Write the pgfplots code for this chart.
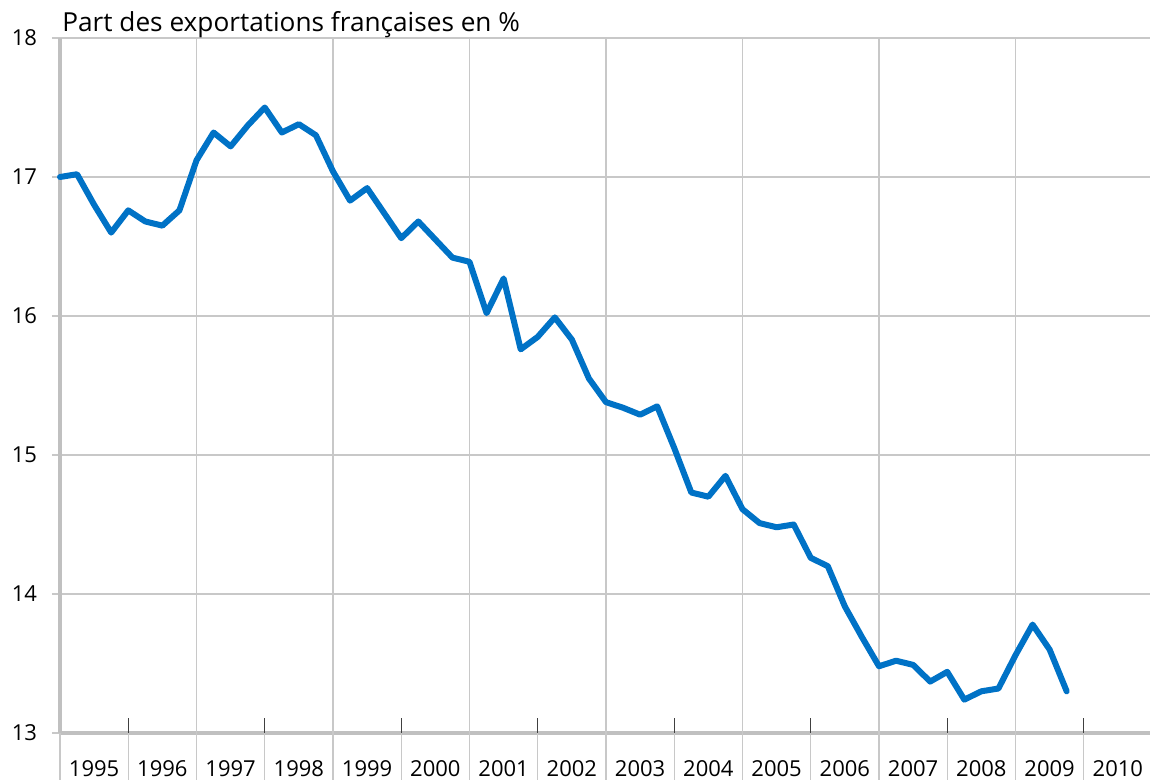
\documentclass[border=0pt]{standalone}
\usepackage{fontspec}
\setmainfont{Open Sans}
\usepackage{pgfplots}
\pgfplotsset{compat=1.18}
\definecolor{lineblue}{RGB}{0,114,198}
\definecolor{gridgrey}{RGB}{200,200,200}
\definecolor{axisgrey}{RGB}{192,192,192}
% x = years since 1995Q1 (quarters at 0, 0.25, 0.5, ...)
\begin{document}
\begin{tikzpicture}
\begin{axis}[
  name=ax,
  scale only axis,
  width=546pt, height=347.5pt,
  xmin=0, xmax=16,
  ymin=13, ymax=18,
  axis x line*=bottom,
  axis y line*=left,
  axis line style={-, draw=axisgrey, line width=1.6pt},
  ytick={13,14,15,16,17,18},
  ymajorgrids,
  grid style={draw=gridgrey, line width=0.9pt},
  y tick style={draw=gridgrey, line width=0.9pt},
  ytick align=outside,
  major tick length=4pt,
  yticklabel style={font=\fontsize{11}{13}\selectfont, xshift=-4pt},
  xtick={0.5,1.5,2.5,3.5,4.5,5.5,6.5,7.5,8.5,9.5,10.5,11.5,12.5,13.5,14.5,15.5},
  xticklabels={1995,1996,1997,1998,1999,2000,2001,2002,2003,2004,2005,2006,2007,2008,2009,2010},
  x tick style={draw=none},
  xticklabel style={font=\fontsize{11}{13}\selectfont, anchor=base, yshift=-22pt},
  extra x ticks={2,4,6,8,10,12,14},
  extra x tick labels={},
  extra x tick style={grid=major, major tick length=0pt},
  /pgf/number format/assume math mode=true,
  clip=false,
]
\addplot[draw=lineblue, line width=3pt, line join=round, line cap=round] coordinates {
(0.00,17.00)
(0.25,17.02)
(0.50,16.80)
(0.75,16.60)
(1.00,16.76)
(1.25,16.68)
(1.50,16.65)
(1.75,16.76)
(2.00,17.12)
(2.25,17.32)
(2.50,17.22)
(2.75,17.37)
(3.00,17.50)
(3.25,17.32)
(3.50,17.38)
(3.75,17.30)
(4.00,17.04)
(4.25,16.83)
(4.50,16.92)
(4.75,16.74)
(5.00,16.56)
(5.25,16.68)
(5.50,16.55)
(5.75,16.42)
(6.00,16.39)
(6.25,16.02)
(6.50,16.27)
(6.75,15.76)
(7.00,15.85)
(7.25,15.99)
(7.50,15.83)
(7.75,15.55)
(8.00,15.38)
(8.25,15.34)
(8.50,15.29)
(8.75,15.35)
(9.00,15.05)
(9.25,14.73)
(9.50,14.70)
(9.75,14.85)
(10.00,14.61)
(10.25,14.51)
(10.50,14.48)
(10.75,14.50)
(11.00,14.26)
(11.25,14.20)
(11.50,13.91)
(11.75,13.69)
(12.00,13.48)
(12.25,13.52)
(12.50,13.49)
(12.75,13.37)
(13.00,13.44)
(13.25,13.24)
(13.50,13.30)
(13.75,13.32)
(14.00,13.56)
(14.25,13.78)
(14.50,13.60)
(14.75,13.30)
};
\pgfplotsinvokeforeach{0,1,...,16}{
  \draw[draw=gridgrey, line width=0.6pt] (axis cs:#1,13) -- ++(0pt,-30pt);
}
\pgfplotsinvokeforeach{1,3,...,15}{
  \draw[draw=black!75, line width=0.7pt] (axis cs:#1,13) -- ++(0pt,7.5pt);
}
\node[anchor=base west, inner sep=0pt, font=\fontsize{13.1}{15}\selectfont] at (rel axis cs:0,1) [xshift=1pt,yshift=3pt] {Part des exportations françaises en \%};
\end{axis}
\pgfresetboundingbox
\path[use as bounding box] ([shift={(-30pt,-23.5pt)}]ax.south west) rectangle ([shift={(-1pt,19pt)}]ax.north east);
\end{tikzpicture}
\end{document}
